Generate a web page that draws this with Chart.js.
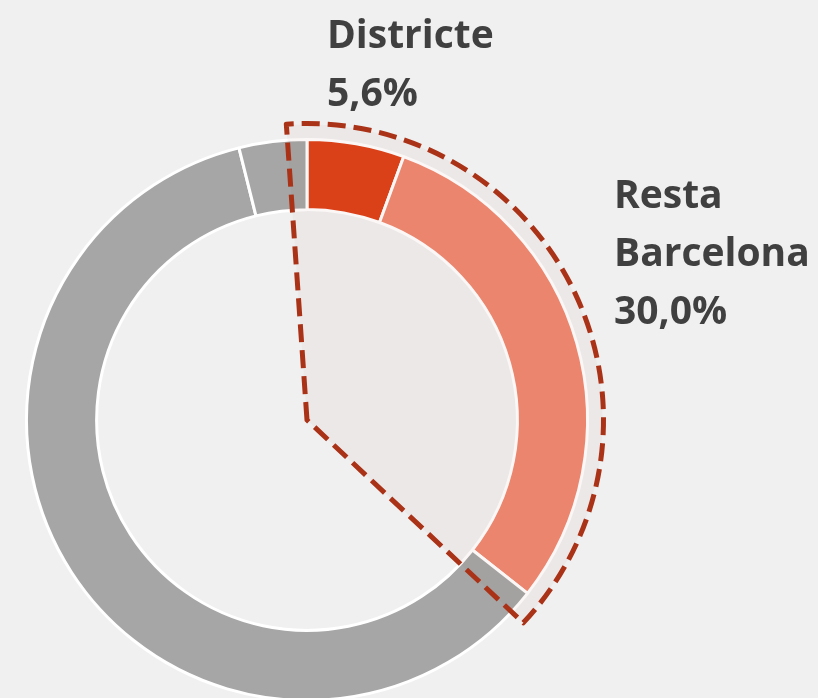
<!DOCTYPE html>
<html lang="ca">
<head>
  <meta charset="UTF-8" />
  <title>Districte - Resta Barcelona</title>
  <style>
    html, body { margin: 0; padding: 0; background: #f0f0f0; overflow: hidden; }
    #wrap { width: 818px; height: 702px; }
  </style>
</head>
<body>
  <div id="wrap">
    <canvas id="grafic" width="818" height="702"></canvas>
  </div>

  <script src="https://cdn.jsdelivr.net/npm/chart.js"></script>
  <script>
    // dades
    const categories = ['Districte', 'Resta Barcelona', 'Resta', 'Altres'];
    const valors = [5.6, 30.0, 60.5, 3.9];
    const colors = ['#dd4319', '#ef8970', '#a6a6a6', '#a6a6a6'];
    const etiquetes = [
      { linies: ['Districte', '5,6%'], x: 327, y: 48 },
      { linies: ['Resta', 'Barcelona', '30,0%'], x: 614, y: 208 }
    ];

    // sector ressaltat (Districte + Resta Barcelona) amb vora discontinua
    const ressaltat = {
      id: 'ressaltat',
      beforeDraw(chart) {
        const ctx = chart.ctx;
        ctx.save();
        ctx.fillStyle = '#f0f0f0';
        ctx.fillRect(0, 0, chart.width, chart.height);
        ctx.restore();
      },
      afterDatasetsDraw(chart) {
        const arcs = chart.getDatasetMeta(0).data;
        const a0 = arcs[0], a1 = arcs[1];
        const cx = a0.x, cy = a0.y;
        const r = a0.outerRadius + 15;
        const ini = a0.startAngle - 4 * Math.PI / 180;
        const fi = a1.endAngle + 5 * Math.PI / 180;
        const ctx = chart.ctx;

        ctx.save();
        ctx.globalCompositeOperation = 'multiply';
        ctx.fillStyle = 'rgb(252, 247, 247)';
        ctx.beginPath();
        ctx.moveTo(cx, cy);
        ctx.arc(cx, cy, r, ini, fi);
        ctx.closePath();
        ctx.fill();
        ctx.restore();

        ctx.save();
        ctx.strokeStyle = '#a93217';
        ctx.lineWidth = 5;
        ctx.setLineDash([18, 8]);
        ctx.lineJoin = 'round';
        ctx.beginPath();
        ctx.moveTo(cx, cy);
        ctx.arc(cx, cy, r + 1, ini, fi);
        ctx.closePath();
        ctx.stroke();
        ctx.restore();
      },
      afterDraw(chart) {
        const ctx = chart.ctx;
        ctx.save();
        ctx.fillStyle = '#404040';
        ctx.font = 'bold 39px "Open Sans"';
        ctx.textBaseline = 'alphabetic';
        etiquetes.forEach(e => {
          e.linies.forEach((t, i) => {
            ctx.fillText(t, e.x, e.y + i * 58);
          });
        });
        ctx.restore();
      }
    };

    new Chart(document.getElementById('grafic'), {
      type: 'doughnut',
      data: {
        labels: categories,
        datasets: [{
          data: valors,
          backgroundColor: colors,
          borderColor: '#ffffff',
          borderWidth: 3
        }]
      },
      options: {
        responsive: false,
        animation: false,
        events: [],
        cutout: '75%',
        layout: { padding: { left: 25, top: 138, right: 229, bottom: 0 } },
        plugins: {
          legend: { display: false },
          tooltip: { enabled: false }
        }
      },
      plugins: [ressaltat]
    });
  </script>
</body>
</html>
